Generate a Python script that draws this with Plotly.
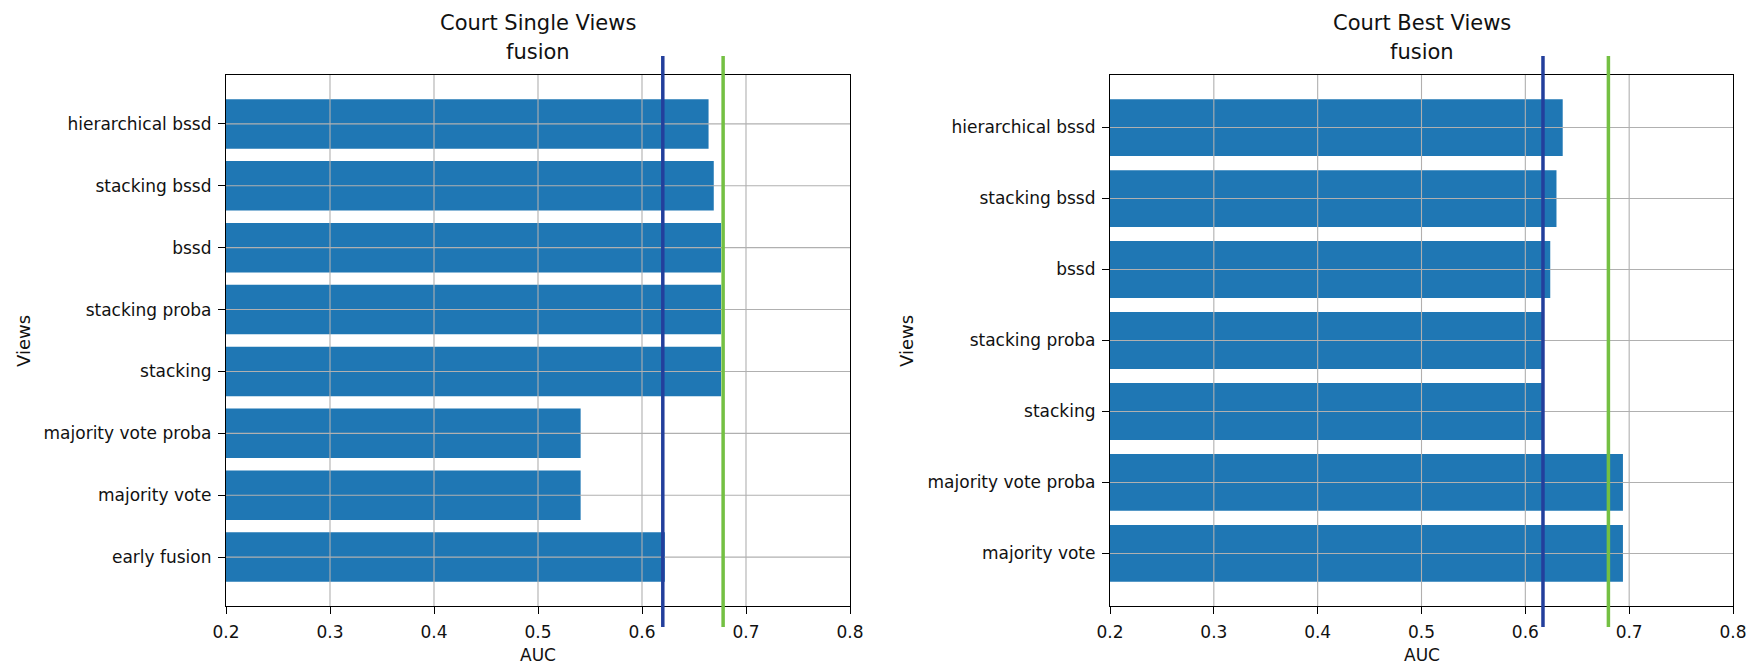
import plotly.graph_objects as go

# ---- data ----
views_single = ["early fusion", "majority vote", "majority vote proba", "stacking",
                "stacking proba", "bssd", "stacking bssd", "hierarchical bssd"]
auc_single = [0.622, 0.541, 0.541, 0.676, 0.676, 0.676, 0.669, 0.664]
ref_single_blue = 0.620
ref_single_green = 0.678

views_best = ["majority vote", "majority vote proba", "stacking", "stacking proba",
              "bssd", "stacking bssd", "hierarchical bssd"]
auc_best = [0.694, 0.694, 0.616, 0.616, 0.624, 0.630, 0.636]
ref_best_blue = 0.617
ref_best_green = 0.680

x_ticks = [0.2, 0.3, 0.4, 0.5, 0.6, 0.7, 0.8]
titles = [("Court Single Views", "fusion"), ("Court Best Views", "fusion")]

# ---- styling ----
FONT = "DejaVu Sans"
BAR = "#1f77b4"
BLUE = "#233f9c"
GREEN = "#74c043"
GRID = "#b0b0b0"
# page has an 8px body margin, so the figure is offset by 8px
W, H = 1750, 658
ML, MR, MT, MB = 218, 25, 67, 60
pw = W - ML - MR
ph = H - MT - MB
Y0 = 606  # bottom of plot area in window pixels (for placing texts)
X0 = 226  # left of plot area in window pixels

fig = go.Figure()

panels = [
    dict(views=views_single, auc=auc_single, blue=ref_single_blue, green=ref_single_green,
         xa="x", ya="y", dom=[0, 624 / pw]),
    dict(views=views_best, auc=auc_best, blue=ref_best_blue, green=ref_best_green,
         xa="x2", ya="y2", dom=[884 / pw, 1507 / pw]),
]

shapes = []
annotations = []
for i, p in enumerate(panels):
    n = len(p["views"])
    ypos = list(range(n))
    fig.add_trace(go.Bar(
        x=p["auc"], y=ypos, orientation="h", width=0.8,
        marker=dict(color=BAR, line=dict(width=0)),
        xaxis=p["xa"], yaxis=p["ya"], showlegend=False, hoverinfo="x+y",
    ))
    span = (n - 1 + 0.8)
    yr = [-0.4 - 0.05 * span, n - 1 + 0.4 + 0.05 * span]
    axsuf = "" if i == 0 else "2"
    fig.update_layout(**{
        "xaxis" + axsuf: dict(
            domain=p["dom"], range=[x_ticks[0], x_ticks[-1]], tickvals=x_ticks,
            tickformat=".1f", showgrid=False, zeroline=False,
            showline=True, mirror=True, linecolor="black", linewidth=1.2,
            ticks="outside", ticklen=7, tickwidth=1.1, tickcolor="black",
            tickfont=dict(family=FONT, size=17, color="#111"),
            ticklabelstandoff=3, anchor="y" + axsuf,
        ),
        "yaxis" + axsuf: dict(
            domain=[0, 1], range=yr, tickvals=ypos, ticktext=p["views"],
            showgrid=False, zeroline=False,
            showline=True, mirror=True, linecolor="black", linewidth=1.2,
            ticks="outside", ticklen=7, tickwidth=1.1, tickcolor="black",
            tickfont=dict(family=FONT, size=17, color="#111"),
            ticklabelstandoff=3, anchor="x" + axsuf,
        ),
    })
    # grid lines drawn above bars (as in the reference)
    for xv in x_ticks[1:-1]:
        shapes.append(dict(type="line", xref=p["xa"], yref=p["ya"] + " domain",
                           x0=xv, x1=xv, y0=0, y1=1, layer="above",
                           line=dict(color=GRID, width=1.1)))
    for yv in ypos:
        shapes.append(dict(type="line", xref=p["xa"] + " domain", yref=p["ya"],
                           x0=0, x1=1, y0=yv, y1=yv, layer="above",
                           line=dict(color=GRID, width=1.1)))
    # reference vertical lines (extend slightly beyond the axes)
    for val, col in [(p["blue"], BLUE), (p["green"], GREEN)]:
        shapes.append(dict(type="line", xref=p["xa"], yref="paper",
                           x0=val, x1=val, y0=-21 / ph, y1=1 + 19 / ph, layer="above",
                           line=dict(color=col, width=3.5)))
    cx = (p["dom"][0] + p["dom"][1]) / 2
    t1, t2 = titles[i]
    annotations.append(dict(text=t1, xref="paper", yref="paper", x=cx, y=(Y0 - 23) / ph,
                            xanchor="center", yanchor="middle", showarrow=False,
                            font=dict(family=FONT, size=21, color="#111")))
    annotations.append(dict(text=t2, xref="paper", yref="paper", x=cx, y=(Y0 - 52) / ph,
                            xanchor="center", yanchor="middle", showarrow=False,
                            font=dict(family=FONT, size=21, color="#111")))
    annotations.append(dict(text="AUC", xref="paper", yref="paper", x=cx, y=(Y0 - 655) / ph,
                            xanchor="center", yanchor="middle", showarrow=False,
                            font=dict(family=FONT, size=17, color="#111")))
    vx = (23 - X0) / pw if i == 0 else (906 - X0) / pw
    annotations.append(dict(text="Views", xref="paper", yref="paper", x=vx, y=(Y0 - 341) / ph,
                            xanchor="center", yanchor="middle", showarrow=False, textangle=-90,
                            font=dict(family=FONT, size=18, color="#111")))

fig.update_layout(
    width=W, height=H,
    margin=dict(l=ML, r=MR, t=MT, b=MB, autoexpand=False),
    paper_bgcolor="white", plot_bgcolor="white",
    shapes=shapes, annotations=annotations, bargap=0.2,
    font=dict(family=FONT, color="#111"),
)

fig.write_html("out.html")
